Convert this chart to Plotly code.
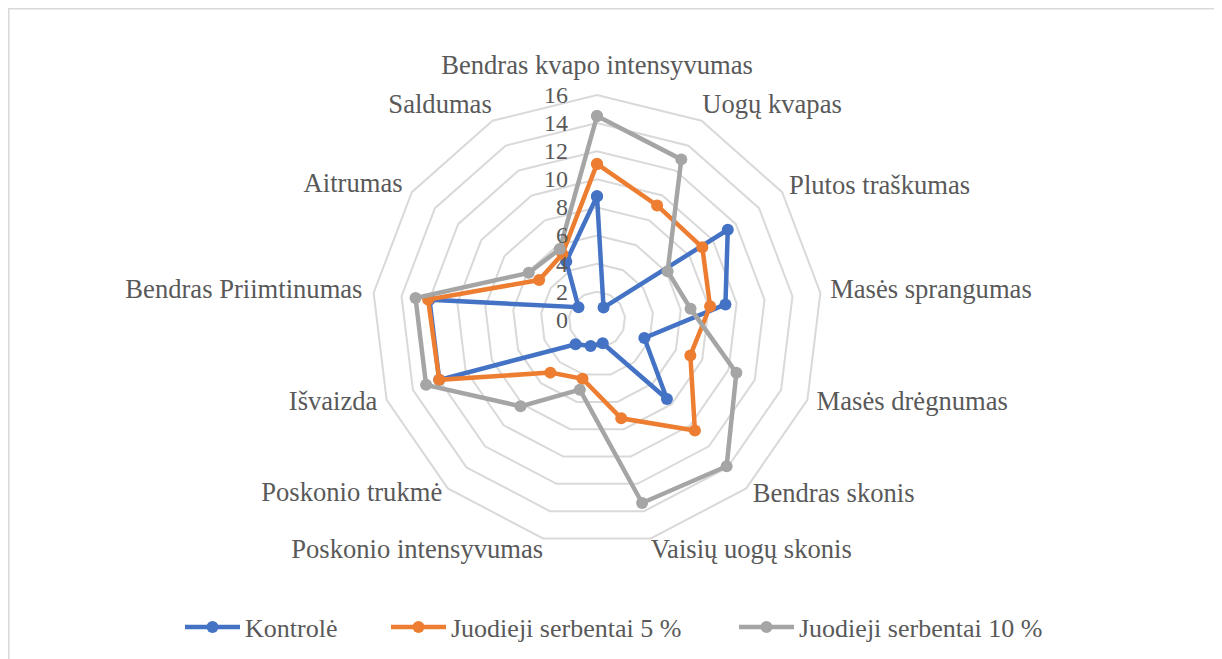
import plotly.graph_objects as go

categories = [
    "Bendras kvapo intensyvumas", "Uogų kvapas", "Plutos traškumas",
    "Masės sprangumas", "Masės drėgnumas", "Bendras skonis",
    "Vaisių uogų skonis", "Poskonio intensyvumas", "Poskonio trukmė",
    "Išvaizda", "Bendras Priimtinumas", "Aitrumas", "Saldumas",
]
kontrole = [8.8, 1.0, 11.3, 9.2, 3.6, 7.5, 1.7, 1.9, 2.3, 12.0, 12.0, 1.6, 4.7]
serbentai_5 = [11.1, 9.2, 9.1, 8.1, 7.1, 10.5, 7.2, 4.3, 5.0, 12.0, 12.1, 5.0, 5.3]
serbentai_10 = [14.5, 12.9, 6.1, 6.7, 10.6, 13.9, 13.4, 5.1, 8.2, 13.0, 13.0, 5.9, 5.7]
radial_ticks = [0, 2, 4, 6, 8, 10, 12, 14, 16]

series = [
    ("Kontrolė", kontrole, "#4472C4"),
    ("Juodieji serbentai 5 %", serbentai_5, "#ED7D31"),
    ("Juodieji serbentai 10 %", serbentai_10, "#A5A5A5"),
]

# where the category names sit (Excel-like placement just outside the outer ring)
label_r = [17.0, 16.1, 16.6, 16.7, 16.7, 16.7, 16.0, 16.0, 16.6, 16.7, 16.8, 16.8, 16.1]
label_pos = ["top center", "top right", "middle right", "middle right", "middle right",
             "middle right", "bottom right", "bottom left", "middle left", "middle left",
             "middle left", "middle left", "top left"]

W, H = 1222, 659
off = 8  # page body margin
rmax = 17.2  # room for the category names; outer ring stays at 16
cx, cy = 597 - off, 320 - off
R = 225 * rmax / 16

fam = "Liberation Serif, Times New Roman, serif"
cat_font = dict(family=fam, size=26.6, color="#595959")
tick_font = dict(family=fam, size=24, color="#595959")

fig = go.Figure()
legend_ids = ["legend", "legend2", "legend3"]
for (name, vals, col), lg in zip(series, legend_ids):
    fig.add_trace(go.Scatterpolar(
        r=vals + vals[:1], theta=categories + categories[:1],
        mode="lines+markers", name=name, legend=lg,
        line=dict(color=col, width=4.5),
        marker=dict(color=col, size=12),
    ))

fig.add_trace(go.Scatterpolar(
    r=label_r, theta=categories, mode="text", text=categories,
    textposition=label_pos, textfont=cat_font, cliponaxis=False,
    showlegend=False, hoverinfo="skip",
))

legend_x = [186, 392, 740]  # page x where each legend entry starts
legend_common = dict(
    orientation="h", xanchor="left", y=(H - (627 - off)) / H, yanchor="middle",
    font=dict(family=fam, size=26, color="#595959"), itemwidth=55,
    bgcolor="rgba(0,0,0,0)",
)
legends = {lg: dict(legend_common, x=(lx - off - 6) / W) for lg, lx in zip(legend_ids, legend_x)}

fig.update_layout(
    width=W, height=H,
    margin=dict(l=0, r=0, t=0, b=0),
    paper_bgcolor="white",
    font=cat_font,
    polar=dict(
        domain=dict(x=[(cx - R) / W, (cx + R) / W],
                    y=[(H - cy - R) / H, (H - cy + R) / H]),
        bgcolor="white",
        gridshape="linear",
        angularaxis=dict(
            rotation=90, direction="clockwise",
            showgrid=False, showline=False, ticks="", showticklabels=False,
        ),
        radialaxis=dict(
            range=[0, rmax], tickvals=radial_ticks, angle=90,
            side="counterclockwise", tickangle=90,
            showline=False, ticks="outside", ticklen=20,
            tickcolor="rgba(0,0,0,0)",
            gridcolor="#D9D9D9", gridwidth=1.5,
            tickfont=tick_font,
        ),
    ),
    shapes=[dict(
        type="rect", xref="paper", yref="paper",
        x0=0.8 / W, x1=(1215 - off) / W, y0=-0.05, y1=1 - 0.8 / H,
        line=dict(color="#D9D9D9", width=1.5),
    )],
    **legends,
)

fig.write_html("out.html")
